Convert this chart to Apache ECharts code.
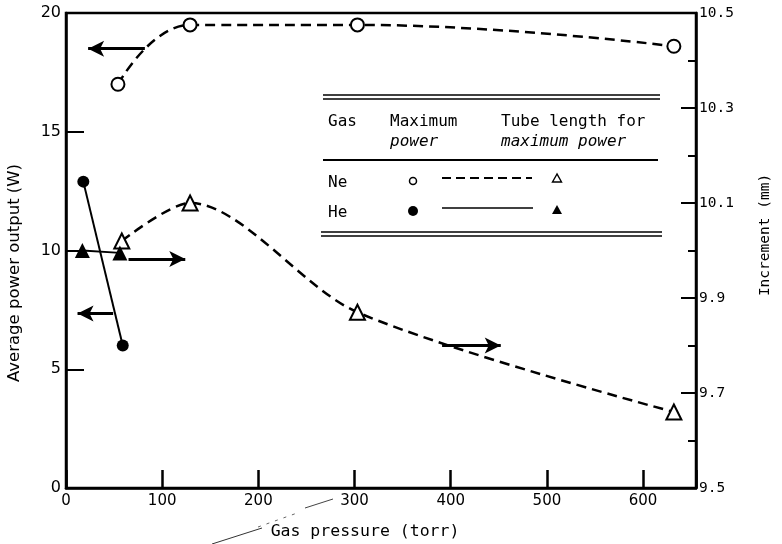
<!DOCTYPE html>
<html>
<head>
<meta charset="utf-8">
<script src="https://cdn.jsdelivr.net/npm/echarts@6/dist/echarts.min.js"></script>
<style>html,body{margin:0;padding:0;background:#fff;}#c{width:782px;height:544px;}</style>
</head>
<body>
<div id="c"></div>
<script>
// ---- data ----
const xNePower = [54, 129, 303, 632];
const yNePower = [17.0, 19.5, 19.5, 18.6];
const xHePower = [18, 59];
const yHePower = [12.9, 6.0];
const xNeTube = [58, 129, 303, 632];
const yNeTube = [10.02, 10.10, 9.87, 9.66];
const xHeTube = [17, 56];
const yHeTube = [10.0, 9.995];
// arrow annotations: [xFrom, xTo, y]
const arrowNePower = [82, 23, 18.5];
const arrowHePower = [49, 12, 7.35];
const arrowHeTube = [65, 124, 9.982];
const arrowNeTube = [391, 452, 9.80];
const xTicks = [0, 100, 200, 300, 400, 500, 600];
const leftTicks = [0, 5, 10, 15, 20];
const rightTicks = [9.5, 9.7, 9.9, 10.1, 10.3, 10.5];

const zip = (xs, ys) => xs.map((x, i) => [x, ys[i]]);
const arrow = (a) => [[{coord: [a[0], a[2]]}, {coord: [a[1], a[2]]}]];
const arrowMark = (a) => ({
  silent: true, animation: false,
  symbol: ['none', 'arrow'], symbolSize: [12, 16],
  lineStyle: {type: 'solid', width: 3.2, color: '#000'},
  label: {show: false}, emphasis: {disabled: true},
  data: arrow(a)
});

const MONO = 'DejaVu Sans Mono';
const SANS = 'DejaVu Sans';
const chart = echarts.init(document.getElementById('c'), null, {renderer: 'canvas'});

const openSym = {color: '#fff', borderColor: '#000', borderWidth: 2};
const F = (s, it) => (it ? 'italic ' : '') + s + 'px "' + MONO + '"';
const legendGraphics = [
  // table rules
  {type: 'line', shape: {x1: 323, y1: 95, x2: 660, y2: 95}, style: {stroke: '#000', lineWidth: 1.6}},
  {type: 'line', shape: {x1: 323, y1: 99, x2: 660, y2: 99}, style: {stroke: '#000', lineWidth: 1.6}},
  {type: 'line', shape: {x1: 323, y1: 160, x2: 658, y2: 160}, style: {stroke: '#000', lineWidth: 1.8}},
  {type: 'line', shape: {x1: 321, y1: 232, x2: 662, y2: 232}, style: {stroke: '#000', lineWidth: 1.6}},
  {type: 'line', shape: {x1: 321, y1: 236, x2: 662, y2: 236}, style: {stroke: '#000', lineWidth: 1.6}},
  // header
  {type: 'text', style: {x: 328, y: 122, text: 'Gas', font: F(16), fill: '#000', verticalAlign: 'middle'}},
  {type: 'text', style: {x: 390, y: 122, text: 'Maximum', font: F(16), fill: '#000', verticalAlign: 'middle'}},
  {type: 'text', style: {x: 390, y: 142, text: 'power', font: F(16, true), fill: '#000', verticalAlign: 'middle'}},
  {type: 'text', style: {x: 501, y: 122, text: 'Tube length for', font: F(16), fill: '#000', verticalAlign: 'middle'}},
  {type: 'text', style: {x: 501, y: 142, text: 'maximum power', font: F(16, true), fill: '#000', verticalAlign: 'middle'}},
  // rows
  {type: 'text', style: {x: 328, y: 183, text: 'Ne', font: F(16), fill: '#000', verticalAlign: 'middle'}},
  {type: 'text', style: {x: 328, y: 213, text: 'He', font: F(16), fill: '#000', verticalAlign: 'middle'}},
  {type: 'circle', shape: {cx: 413, cy: 181, r: 3.5}, style: {fill: '#fff', stroke: '#000', lineWidth: 1.5}},
  {type: 'circle', shape: {cx: 413, cy: 211, r: 5}, style: {fill: '#000'}},
  {type: 'line', shape: {x1: 442, y1: 178, x2: 532, y2: 178}, style: {stroke: '#000', lineWidth: 2, lineDash: [9, 5]}},
  {type: 'line', shape: {x1: 442, y1: 208, x2: 533, y2: 208}, style: {stroke: '#000', lineWidth: 1.6}},
  {type: 'polygon', shape: {points: [[557, 174], [552.5, 182], [561.5, 182]]}, style: {fill: '#fff', stroke: '#000', lineWidth: 1.4}},
  {type: 'polygon', shape: {points: [[557, 205], [552, 214], [562, 214]]}, style: {fill: '#000'}},
  // axis titles
  {type: 'text', x: 15, y: 273, rotation: Math.PI / 2,
   style: {x: 0, y: 0, text: 'Average power output (W)', font: '16.5px "' + SANS + '"', fill: '#000', align: 'center', verticalAlign: 'middle'}},
  {type: 'text', x: 765, y: 235, rotation: Math.PI / 2,
   style: {x: 0, y: 0, text: 'Increment (mm)', font: '14.5px "' + MONO + '"', fill: '#000', align: 'center', verticalAlign: 'middle'}},
  {type: 'text', style: {x: 365, y: 532, text: 'Gas pressure (torr)', font: '16.5px "' + MONO + '"', fill: '#000', align: 'center', verticalAlign: 'middle'}},
  // scan stroke near axis title
  {type: 'line', shape: {x1: 212, y1: 544, x2: 262, y2: 528}, style: {stroke: '#333', lineWidth: 1}},
  {type: 'line', shape: {x1: 258, y1: 527, x2: 300, y2: 512}, style: {stroke: '#666', lineWidth: 1, lineDash: [3, 6]}},
  {type: 'line', shape: {x1: 305, y1: 508, x2: 333, y2: 499}, style: {stroke: '#444', lineWidth: 1}}
];

chart.setOption({
  animation: false,
  backgroundColor: '#fff',
  grid: {left: 66, right: 86, top: 13, bottom: 56, show: true, borderColor: '#000', borderWidth: 2.5, backgroundColor: 'transparent'},
  xAxis: {
    type: 'value', min: 0, max: 655, interval: 100,
    axisLine: {show: true, onZero: false, lineStyle: {color: '#000', width: 2.5}},
    axisTick: {show: true, inside: true, length: 18, lineStyle: {color: '#000', width: 2.5}},
    axisLabel: {color: '#000', fontFamily: SANS, fontSize: 15, margin: 6,
      formatter: v => (xTicks.indexOf(v) >= 0 ? String(v) : '')},
    splitLine: {show: false}
  },
  yAxis: [
    {
      type: 'value', min: 0, max: 20, interval: 5, position: 'left',
      axisLine: {show: true, onZero: false, lineStyle: {color: '#000', width: 2.5}},
      axisTick: {show: true, inside: true, length: 18, lineStyle: {color: '#000', width: 2}},
      axisLabel: {color: '#000', fontFamily: SANS, fontSize: 16, margin: 5,
        formatter: v => (leftTicks.indexOf(v) >= 0 ? String(v) : '')},
      splitLine: {show: false}
    },
    {
      type: 'value', min: 9.5, max: 10.5, interval: 0.2, position: 'right',
      axisLine: {show: true, onZero: false, lineStyle: {color: '#000', width: 2.5}},
      axisTick: {show: true, inside: true, length: 15, lineStyle: {color: '#000', width: 2}},
      minorTick: {show: true, splitNumber: 2, length: 8, lineStyle: {color: '#000', width: 2}},
      axisLabel: {color: '#000', fontFamily: MONO, fontSize: 14.5, margin: 3,
        formatter: v => {
          const s = Number(v).toFixed(1);
          return rightTicks.map(t => t.toFixed(1)).indexOf(s) >= 0 ? s : '';
        }},
      splitLine: {show: false}, minorSplitLine: {show: false}
    }
  ],
  series: [
    {
      name: 'Ne power', type: 'line', yAxisIndex: 0, smooth: 0.45,
      data: zip(xNePower, yNePower),
      symbol: 'circle', symbolSize: 13, itemStyle: openSym,
      lineStyle: {color: '#000', width: 2.5, type: [10, 6]},
      markLine: arrowMark(arrowNePower), z: 3
    },
    {
      name: 'He power', type: 'line', yAxisIndex: 0, smooth: false,
      data: zip(xHePower, yHePower),
      symbol: 'circle', symbolSize: 12, itemStyle: {color: '#000'},
      lineStyle: {color: '#000', width: 2},
      markLine: arrowMark(arrowHePower), z: 3
    },
    {
      name: 'Ne tube', type: 'line', yAxisIndex: 1, smooth: 0.3,
      data: zip(xNeTube, yNeTube),
      symbol: 'triangle', symbolSize: 15, itemStyle: openSym,
      lineStyle: {color: '#000', width: 2.5, type: [10, 6]},
      markLine: arrowMark(arrowNeTube), z: 3
    },
    {
      name: 'He tube', type: 'line', yAxisIndex: 1, smooth: false,
      data: zip(xHeTube, yHeTube),
      symbol: 'triangle', symbolSize: 15, itemStyle: {color: '#000'},
      lineStyle: {color: '#000', width: 2},
      markLine: arrowMark(arrowHeTube), z: 4
    }
  ],
  graphic: legendGraphics
});
</script>
</body>
</html>
